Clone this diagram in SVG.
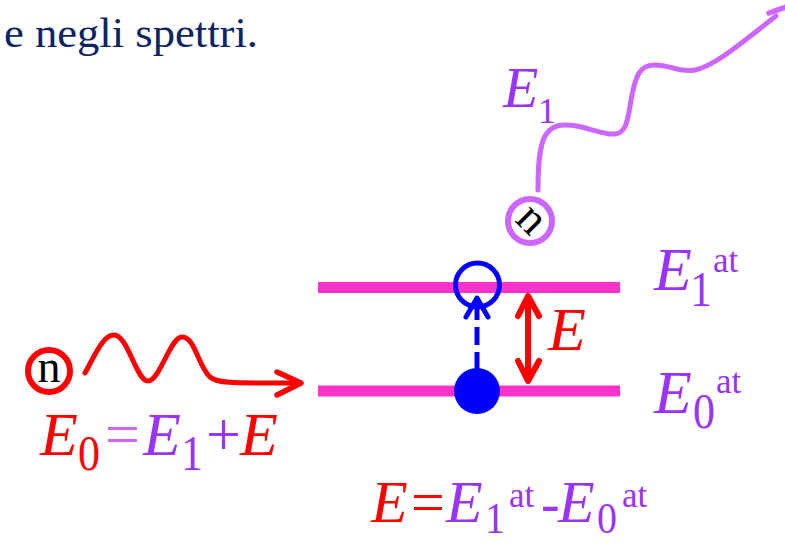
<svg xmlns="http://www.w3.org/2000/svg" width="785" height="543" viewBox="0 0 785 543">
<style>
text{font-family:'Liberation Serif','DejaVu Serif','Times New Roman',serif;}
.it{font-style:italic;}
.red{fill:#ff0000;}
.pur{fill:#9933ff;}
.lpur{fill:#cc66ff;}
.lvl{stroke:#ff33cc;stroke-width:11;fill:none;}
</style>
<rect width="785" height="543" fill="#ffffff"/>
<text x="4" y="47" font-size="42" fill="#0a2466" textLength="254" lengthAdjust="spacingAndGlyphs">e negli spettri.</text>

<g id="connectors" fill="none" stroke-linecap="round" stroke-linejoin="round">
  <path d="M85,373 C95,355 103,335 114,335 C128,335 136,381 148,381 C160,381 170,337 182,337 C195,337 198,366 210,377 C218,384 235,383 300,383" stroke="#ff0000" stroke-width="5"/>
  <path d="M277,372 L301,383 L277,395" stroke="#ff0000" stroke-width="5.5"/>
  <path d="M538,190 C538,160 540,140 548,132 C555,124 565,124 577,126 C592,129 605,135 615,134 C628,133 628,115 632,95 C636,75 640,65 655,65 C670,65 680,73 695,70 C715,66 745,40 776,16" stroke="#cc66ff" stroke-width="5"/>
  <path d="M769,13 L795,4 L792,30" stroke="#cc66ff" stroke-width="5.5"/>
  <path d="M477,370 L477,303" stroke="#0000ff" stroke-width="5" stroke-dasharray="18,7" stroke-linecap="butt"/>
  <path d="M466,317 L477,298 L488,317" stroke="#0000ff" stroke-width="5"/>
  <path d="M528,298 L528,380" stroke="#ff0000" stroke-width="6"/>
  <path d="M518,316 L528,296 L539,316" stroke="#ff0000" stroke-width="6"/>
  <path d="M518,361 L528,381 L539,361" stroke="#ff0000" stroke-width="6"/>
</g>

<g id="level1"><line class="lvl" x1="318" y1="287.5" x2="620" y2="287.5"/></g>
<g id="level0"><line class="lvl" x1="318" y1="391" x2="620" y2="391"/></g>

<g id="electron-excited"><circle cx="477.5" cy="285" r="22" fill="none" stroke="#0000ff" stroke-width="5"/></g>
<g id="electron-ground"><circle cx="477" cy="391" r="23" fill="#0000ff"/></g>

<g id="photon-in">
  <circle cx="49" cy="371" r="21" fill="#ffffff" stroke="#ff0000" stroke-width="6"/>
  <text x="49" y="382" font-size="46" text-anchor="middle" fill="#000000">n</text>
</g>
<g id="photon-out">
  <circle cx="530" cy="221" r="22" fill="#ffffff" stroke="#cc66ff" stroke-width="6"/>
  <text x="530" y="232" font-size="46" text-anchor="middle" fill="#000000" transform="rotate(45 530 221)">n</text>
</g>

<g id="label-E1">
  <text class="it pur" x="503" y="107" font-size="58">E</text>
  <text class="pur" x="538" y="123" font-size="36">1</text>
</g>

<g id="label-E">
  <text class="it red" x="548" y="350" font-size="62">E</text>
</g>

<g id="label-E1at">
  <text class="it pur" x="654" y="290" font-size="62">E</text>
  <text class="pur" font-size="44" transform="translate(690,306) scale(1,1.15)">1</text>
  <text class="pur" x="713" y="272" font-size="35">at</text>
</g>
<g id="label-E0at">
  <text class="it pur" x="654" y="413" font-size="62">E</text>
  <text class="pur" font-size="44" transform="translate(693,428) scale(1,1.15)">0</text>
  <text class="pur" x="716" y="393" font-size="35">at</text>
</g>

<g id="eq-left">
  <text class="it red" x="40" y="455" font-size="62">E</text>
  <text class="red" font-size="44" transform="translate(78,470) scale(1,1.15)">0</text>
  <text class="lpur" x="105" y="455" font-size="62">=</text>
  <text class="it pur" x="143" y="455" font-size="62">E</text>
  <text class="pur" font-size="44" transform="translate(181,470) scale(1,1.15)">1</text>
  <text class="pur" x="206" y="455" font-size="62">+</text>
  <text class="it red" x="240" y="455" font-size="62">E</text>
</g>

<g id="eq-bottom">
  <text class="it red" x="371" y="522" font-size="60">E</text>
  <text class="red" x="411" y="522" font-size="60">=</text>
  <text class="it pur" x="446" y="522" font-size="60">E</text>
  <text class="pur" font-size="40" transform="translate(485,533) scale(1,1.1)">1</text>
  <text class="pur" x="509" y="507" font-size="35">at</text>
  <text class="pur" x="541" y="522" font-size="56">-</text>
  <text class="it pur" x="558" y="522" font-size="60">E</text>
  <text class="pur" font-size="40" transform="translate(597,533) scale(1,1.1)">0</text>
  <text class="pur" x="622" y="507" font-size="35">at</text>
</g>
</svg>
